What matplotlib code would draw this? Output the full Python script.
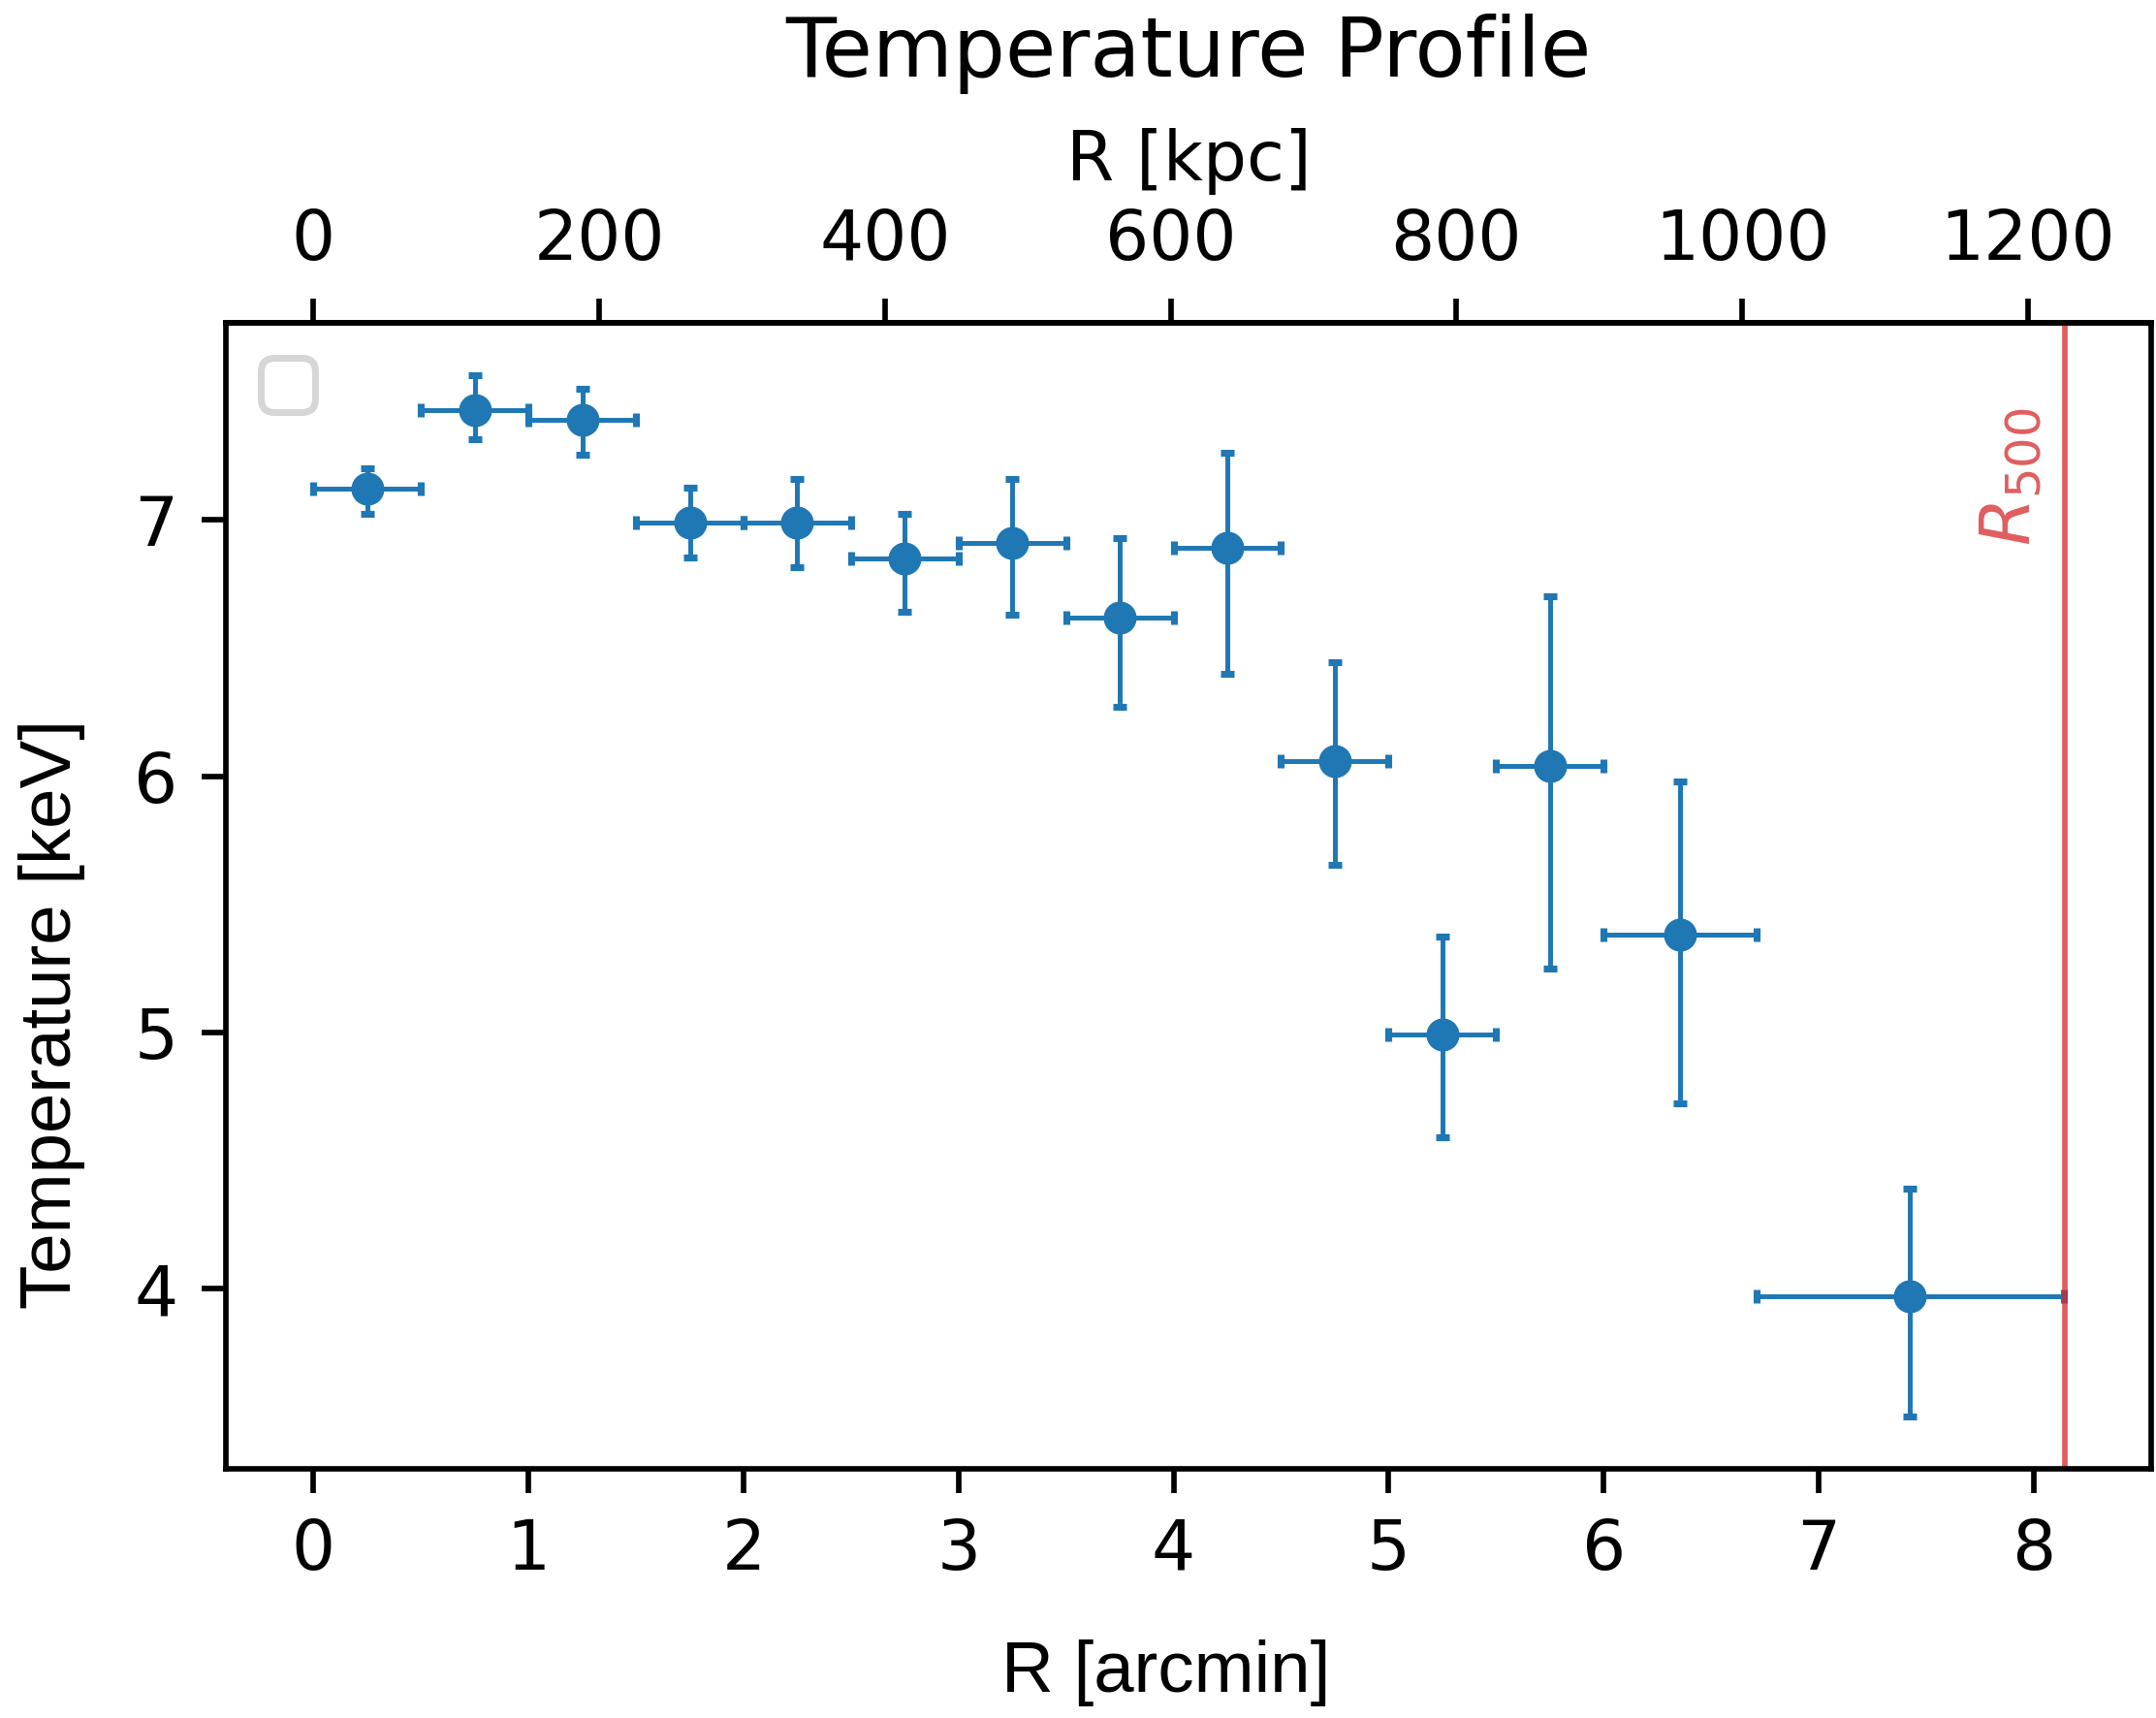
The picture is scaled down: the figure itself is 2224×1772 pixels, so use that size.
import numpy as np
import matplotlib
matplotlib.use("Agg")
import matplotlib.pyplot as plt

# radial bins [arcmin]
r_arcmin = [0.25, 0.75, 1.25, 1.75, 2.25, 2.75, 3.25, 3.75, 4.25, 4.75, 5.25, 5.75, 6.355, 7.425]
r_halfwidth = [0.25, 0.25, 0.25, 0.25, 0.25, 0.25, 0.25, 0.25, 0.25, 0.25, 0.25, 0.25, 0.355, 0.715]

# temperatures [keV] with asymmetric errors
temp = [7.12, 7.43, 7.39, 6.99, 6.99, 6.85, 6.91, 6.62, 6.89, 6.06, 4.99, 6.04, 5.38, 3.97]
temp_err_lo = [0.095, 0.115, 0.135, 0.135, 0.175, 0.21, 0.28, 0.35, 0.49, 0.405, 0.40, 0.79, 0.655, 0.47]
temp_err_hi = [0.08, 0.135, 0.12, 0.135, 0.17, 0.175, 0.25, 0.31, 0.37, 0.385, 0.385, 0.66, 0.60, 0.42]

kpc_ticks = [0, 200, 400, 600, 800, 1000, 1200]

r500 = 8.145
kpc_per_arcmin = 150.5

DPI = 511
fig = plt.figure(figsize=(2224 / DPI, 1772 / DPI), dpi=DPI)
ax = fig.add_axes([0.1048, 0.145, 0.893, 0.667])

ax.errorbar(r_arcmin, temp, xerr=r_halfwidth, yerr=[temp_err_lo, temp_err_hi],
            fmt='o', ms=3.8, color='tab:blue', elinewidth=0.7, capsize=1, capthick=1)

ax.axvline(r500, color='tab:red', lw=0.8, alpha=0.75)
ax.annotate(r'$R_{500}$', xy=(r500, 7.44), xytext=(-3, 0), textcoords='offset points',
            rotation=90, ha='right', va='top', color='tab:red', alpha=0.75, fontsize=10)

ax.legend(handles=[], loc='upper left')

ax.set_xlabel('R [arcmin]', family='Liberation Sans', fontsize=10.5, labelpad=8)
ax.set_ylabel('Temperature [keV]', family='Liberation Sans', fontsize=10.5, labelpad=7)
ax.xaxis.label.set_x(0.488)
ax.yaxis.label.set_y(0.397)

secax = ax.secondary_xaxis('top', functions=(lambda x: x * kpc_per_arcmin,
                                             lambda x: x / kpc_per_arcmin))
secax.set_xticks(kpc_ticks)
secax.set_xlabel('R [kpc]')
ax.set_title('Temperature Profile', fontsize=12, pad=7.5)

fig.savefig('out.png', dpi=DPI)
